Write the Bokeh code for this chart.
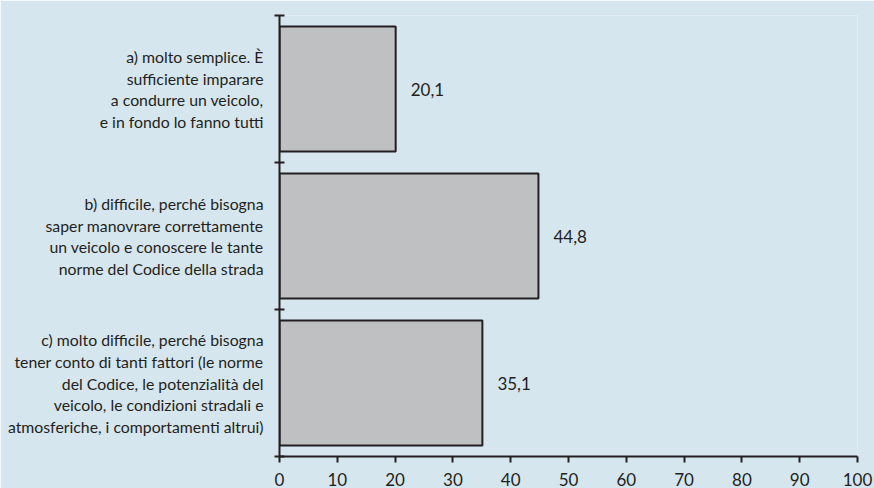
from bokeh.plotting import figure
from bokeh.models import Range1d, LinearAxis, FixedTicker, ColumnDataSource
from bokeh.embed import file_html
from bokeh.resources import INLINE
from bokeh.core.properties import value

categories = [
    "a) molto semplice. È\nsufficiente imparare\na condurre un veicolo,\ne in fondo lo fanno tutti",
    "b) difficile, perché bisogna\nsaper manovrare correttamente\nun veicolo e conoscere le tante\nnorme del Codice della strada",
    "c) molto difficile, perché bisogna\ntener conto di tanti fattori (le norme\ndel Codice, le potenzialità del\nveicolo, le condizioni stradali e\natmosferiche, i comportamenti altrui)",
]
values = [20.1, 44.8, 35.1]
value_labels = ["20,1", "44,8", "35,1"]
x_ticks = [0, 10, 20, 30, 40, 50, 60, 70, 80, 90, 100]

FONT = "Lato"
FS_CAT = "15.8px"
FS_NUM = "17px"
BG = "#d6e6ee"
DARK = "#231f20"
BAR = "#bfc0c2"

n = len(categories)
ys = [n - i - 0.5 for i in range(n)]
src = ColumnDataSource(dict(y=ys, v=values, lab=value_labels))

p = figure(width=874, height=488, x_range=Range1d(0, 100), y_range=Range1d(0, n),
           output_backend="svg", toolbar_location=None,
           background_fill_color=BG, border_fill_color=BG, outline_line_color=None,
           min_border_left=279, min_border_right=17, min_border_top=15, min_border_bottom=30)
p.xgrid.visible = False
p.ygrid.visible = False

p.hbar(y="y", right="v", left=0, height=0.85, source=src,
       fill_color=BAR, line_color=DARK, line_width=2)
p.text(x="v", y="y", text="lab", source=src, x_offset=15, text_baseline="middle",
       text_align="left", text_font=value(FONT), text_font_size=FS_NUM, text_color=DARK)

# x axis
xa = p.xaxis[0]
xa.ticker = FixedTicker(ticks=x_ticks)
xa.major_tick_out = 6
xa.major_tick_in = 0
xa.minor_tick_line_color = None
xa.axis_line_width = 2
xa.axis_line_color = DARK
xa.major_tick_line_width = 2
xa.major_tick_line_color = DARK
xa.major_label_text_font = FONT
xa.major_label_text_font_size = FS_NUM
xa.major_label_text_color = DARK
xa.major_label_standoff = 10

# y axis: category boundary ticks
ya = p.yaxis[0]
ya.ticker = FixedTicker(ticks=list(range(n + 1)))
ya.major_label_overrides = {k: "" for k in range(n + 1)}
ya.major_tick_out = 5
ya.major_tick_in = 5
ya.minor_tick_line_color = None
ya.axis_line_width = 2
ya.axis_line_color = DARK
ya.major_tick_line_width = 2
ya.major_tick_line_color = DARK
ya.major_label_standoff = 0

# y axis: category labels
la = LinearAxis(ticker=FixedTicker(ticks=ys),
                major_label_overrides={y: c for y, c in zip(ys, categories)})
la.axis_line_color = None
la.major_tick_line_color = None
la.minor_tick_line_color = None
la.major_tick_out = 0
la.major_tick_in = 0
la.major_label_standoff = 11
la.major_label_text_font = FONT
la.major_label_text_font_size = FS_CAT
la.major_label_text_color = DARK
la.major_label_text_line_height = 1.15
p.add_layout(la, "left")

open("out.html", "w").write(file_html(p, INLINE))
